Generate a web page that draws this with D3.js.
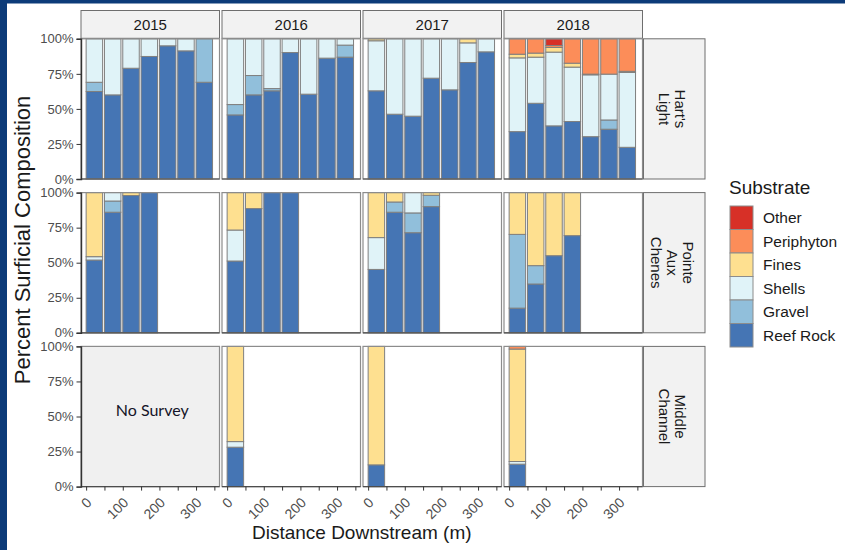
<!DOCTYPE html>
<html>
<head>
<meta charset="utf-8">
<script src="https://cdn.jsdelivr.net/npm/d3@7"></script>
<style>
  html, body { margin: 0; padding: 0; background: #ffffff; }
  svg { display: block; font-family: "Liberation Sans", Arial, sans-serif; }
</style>
</head>
<body>
<svg id="chart" width="845" height="550"></svg>
<script>
// Substrate classes, bottom of the stack first
const substrates = ["Reef Rock", "Gravel", "Shells", "Fines", "Periphyton", "Other"];
const substrateColors = ["#4575b4", "#91bfdb", "#e0f3f8", "#fee090", "#fc8d59", "#d73027"];

const years = ["2015", "2016", "2017", "2018"];
const sites = ["Hart's Light", "Pointe Aux Chenes", "Middle Channel"];
const siteLabelLines = [["Hart's", "Light"], ["Pointe", "Aux", "Chenes"], ["Middle", "Channel"]];

const distanceTicks = [0, 50, 100, 150, 200, 250, 300, 350];
const distanceLabels = ["0", "", "100", "", "200", "", "300", ""];
const percentTicks = [0, 25, 50, 75, 100];

// year, distance (m), Reef Rock, Gravel, Shells, Fines, Periphyton, Other (%)
const hartsLight = [
  ["2015",   0, 62.4,  6.6, 31.0, 0,   0,    0],
  ["2015",  50, 60.0,  0,   40.0, 0,   0,    0],
  ["2015", 100, 79.0,  0,   21.0, 0,   0,    0],
  ["2015", 150, 87.4,  0,   12.6, 0,   0,    0],
  ["2015", 200, 95.0,  0,    5.0, 0,   0,    0],
  ["2015", 250, 91.4,  0,    8.6, 0,   0,    0],
  ["2015", 300, 69.0, 31.0,  0,   0,   0,    0],
  ["2016",   0, 45.7,  7.4, 46.9, 0,   0,    0],
  ["2016",  50, 60.0, 13.8, 26.2, 0,   0,    0],
  ["2016", 100, 62.9,  1.6, 35.5, 0,   0,    0],
  ["2016", 150, 90.2,  0,    9.8, 0,   0,    0],
  ["2016", 200, 60.5,  0,   39.5, 0,   0,    0],
  ["2016", 250, 86.2,  0,   13.8, 0,   0,    0],
  ["2016", 300, 86.9,  8.6,  4.5, 0,   0,    0],
  ["2017",   0, 62.9,  0,   35.7, 1.4, 0,    0],
  ["2017",  50, 46.2,  0,   53.8, 0,   0,    0],
  ["2017", 100, 44.8,  0,   55.2, 0,   0,    0],
  ["2017", 150, 71.9,  0,   28.1, 0,   0,    0],
  ["2017", 200, 63.6,  0,   36.4, 0,   0,    0],
  ["2017", 250, 83.1,  0,   14.0, 2.9, 0,    0],
  ["2017", 300, 90.7,  0,    9.3, 0,   0,    0],
  ["2018",   0, 33.8,  0,   52.6, 2.6, 11.0, 0],
  ["2018",  50, 54.0,  0,   32.9, 2.9, 10.2, 0],
  ["2018", 100, 37.9,  0,   52.6, 3.3,  1.4, 4.8],
  ["2018", 150, 41.0,  0,   38.8, 2.8, 17.4, 0],
  ["2018", 200, 30.2,  0,   44.1, 0.5, 25.2, 0],
  ["2018", 250, 35.5,  6.6, 32.7, 0,   25.2, 0],
  ["2018", 300, 22.6,  0,   53.4, 0.8, 23.2, 0]
];

const pointeAuxChenes = [
  ["2015",   0, 51.9,  0,    2.4, 45.7, 0, 0],
  ["2015",  50, 86.0,  8.0,  6.0,  0,   0, 0],
  ["2015", 100, 97.9,  0,    0,    2.1, 0, 0],
  ["2015", 150, 100,   0,    0,    0,   0, 0],
  ["2016",   0, 51.2,  0,   22.1, 26.7, 0, 0],
  ["2016",  50, 88.6,  0,    0,   11.4, 0, 0],
  ["2016", 100, 100,   0,    0,    0,   0, 0],
  ["2016", 150, 100,   0,    0,    0,   0, 0],
  ["2017",   0, 45.2,  0,   22.7, 32.1, 0, 0],
  ["2017",  50, 86.0,  7.3,  0,    6.7, 0, 0],
  ["2017", 100, 71.4, 14.1, 14.5,  0,   0, 0],
  ["2017", 150, 90.0,  8.1,  0,    1.9, 0, 0],
  ["2018",   0, 17.6, 52.6,  0,   29.8, 0, 0],
  ["2018",  50, 34.8, 13.1,  0,   52.1, 0, 0],
  ["2018", 100, 55.0,  0,    0,   45.0, 0, 0],
  ["2018", 150, 69.3,  0,    0,   30.7, 0, 0]
];

const middleChannel = [
  ["2016", 0, 28.1, 0, 4.0, 67.9, 0,   0],
  ["2017", 0, 15.5, 0, 0,   84.5, 0,   0],
  ["2018", 0, 16.0, 0, 1.9, 80.2, 1.9, 0]
];

const siteData = [hartsLight, pointeAuxChenes, middleChannel];
// site / year combinations that were not surveyed
const noSurvey = [["Middle Channel", "2015"]];

// ---- layout ----
const panelX0 = 81, panelW = 138.5, colStep = 141;
const panelY0 = 38.8, panelH = 140.2, rowStep = 153.8;
const stripTop = 10.5;
const sideStripX0 = 643.5, sideStripX1 = 705;
const barWidth = 45;

const svg = d3.select("#chart");

// slide frame on the left and top edges
svg.append("rect").attr("x", 0).attr("y", 0).attr("width", 845).attr("height", 3.5).attr("fill", "#0c3b79");
svg.append("rect").attr("x", 0).attr("y", 0).attr("width", 7).attr("height", 550).attr("fill", "#0c3b79");

const x = d3.scaleLinear().domain([-14, 364]).range([0, panelW]);
const y = d3.scaleLinear().domain([0, 100]).range([panelH, 0]);
const color = d3.scaleOrdinal().domain(substrates).range(substrateColors);

// year strips
years.forEach((yr, c) => {
  const left = panelX0 + c * colStep;
  svg.append("rect")
    .attr("x", left).attr("y", stripTop)
    .attr("width", panelW).attr("height", panelY0 - stripTop - 0.5)
    .attr("fill", "#f2f2f2").attr("stroke", "#6e6e6e").attr("stroke-width", 1);
  svg.append("text")
    .attr("x", left + panelW / 2).attr("y", (stripTop + panelY0) / 2)
    .attr("text-anchor", "middle").attr("dominant-baseline", "central")
    .attr("font-size", 15).attr("fill", "#1a1a1a")
    .text(yr);
});

sites.forEach((site, r) => {
  const top = panelY0 + r * rowStep;

  // site strip on the right
  svg.append("rect")
    .attr("x", sideStripX0).attr("y", top)
    .attr("width", sideStripX1 - sideStripX0).attr("height", panelH)
    .attr("fill", "#f2f2f2").attr("stroke", "#6e6e6e").attr("stroke-width", 1);
  const lines = siteLabelLines[r];
  const lh = 16;
  const st = svg.append("text")
    .attr("transform", `translate(${(sideStripX0 + sideStripX1) / 2 - 2},${top + panelH / 2}) rotate(90)`)
    .attr("text-anchor", "middle").attr("font-size", 15).attr("fill", "#1a1a1a");
  lines.forEach((ln, i) => {
    st.append("tspan").attr("x", 0)
      .attr("y", (i - (lines.length - 1) / 2) * lh)
      .attr("dominant-baseline", "central")
      .text(ln);
  });

  years.forEach((yr, c) => {
    const left = panelX0 + c * colStep;
    const g = svg.append("g").attr("transform", `translate(${left},${top})`);
    const missing = noSurvey.some(([s, yy]) => s === site && yy === yr);

    g.append("rect").attr("width", panelW).attr("height", panelH)
      .attr("fill", missing ? "#f0f0f0" : "#ffffff");

    // stacked bars for this site/year
    const rows = siteData[r].filter(d => d[0] === yr);
    rows.forEach(row => {
      const dist = row[1];
      let cum = 0;
      substrates.forEach((s, k) => {
        const v = row[2 + k];
        if (v > 0) {
          g.append("rect")
            .attr("x", x(dist)).attr("width", x(dist + barWidth) - x(dist))
            .attr("y", y(cum + v)).attr("height", y(cum) - y(cum + v))
            .attr("fill", color(s))
            .attr("stroke", "#7f7f7f").attr("stroke-width", 1);
        }
        cum += v;
      });
    });

    if (missing) {
      g.append("text")
        .attr("x", panelW / 2 + 2).attr("y", panelH * 0.45)
        .attr("text-anchor", "middle").attr("dominant-baseline", "central")
        .attr("font-family", "Lato, 'Open Sans', sans-serif")
        .attr("font-size", 16).attr("fill", "#141428")
        .text("No Survey");
    }

    // panel border
    g.append("rect").attr("width", panelW).attr("height", panelH)
      .attr("fill", "none").attr("stroke", "#8c8c8c").attr("stroke-width", 1.2);
    // bottom axis line
    g.append("line").attr("x1", 0).attr("x2", panelW)
      .attr("y1", panelH).attr("y2", panelH)
      .attr("stroke", "#4d4d4d").attr("stroke-width", 1.2);

    if (c === 0) {
      const ya = g.append("g").call(
        d3.axisLeft(y).tickValues(percentTicks)
          .tickFormat(d => d + "%").tickSize(4.5).tickPadding(3)
      );
      ya.select(".domain").attr("stroke", "#333333").attr("stroke-width", 1.4);
      ya.selectAll(".tick line").attr("stroke", "#333333");
      ya.selectAll(".tick text")
        .attr("font-size", 13).attr("fill", "#4d4d4d")
        .attr("font-family", "'Liberation Sans', Arial, sans-serif");
    }

    if (r === sites.length - 1) {
      const xa = g.append("g").attr("transform", `translate(0,${panelH})`).call(
        d3.axisBottom(x).tickValues(distanceTicks)
          .tickFormat((d, i) => distanceLabels[i]).tickSize(4)
      );
      xa.select(".domain").remove();
      xa.selectAll(".tick line").attr("stroke", "#333333");
      xa.selectAll(".tick text")
        .attr("x", 0).attr("y", 0).attr("dy", 0)
        .attr("transform", "translate(6,17) rotate(-45)")
        .attr("text-anchor", "end")
        .attr("font-size", 14).attr("fill", "#4d4d4d")
        .attr("font-family", "'Liberation Sans', Arial, sans-serif");
    }
  });
});

// axis titles
svg.append("text")
  .attr("transform", "translate(22,240) rotate(-90)")
  .attr("text-anchor", "middle").attr("dominant-baseline", "central")
  .attr("font-size", 22).attr("fill", "#1a1a1a")
  .text("Percent Surficial Composition");

svg.append("text")
  .attr("x", panelX0 + (3 * colStep + panelW) / 2).attr("y", 539)
  .attr("text-anchor", "middle")
  .attr("font-size", 19).attr("fill", "#1a1a1a")
  .text("Distance Downstream (m)");

// legend
const legend = svg.append("g").attr("transform", "translate(730,0)");
legend.append("text").attr("x", -1).attr("y", 194)
  .attr("font-size", 19).attr("fill", "#1a1a1a").text("Substrate");
const legendOrder = substrates.slice().reverse();
const keyH = 23.5, keyW = 23, keyTop = 206;
legendOrder.forEach((s, i) => {
  legend.append("rect")
    .attr("x", 0).attr("y", keyTop + i * keyH)
    .attr("width", keyW).attr("height", keyH)
    .attr("fill", color(s)).attr("stroke", "#8c8c8c").attr("stroke-width", 1);
  legend.append("text")
    .attr("x", 33).attr("y", keyTop + i * keyH + keyH / 2)
    .attr("dominant-baseline", "central")
    .attr("font-size", 15.5).attr("fill", "#1a1a1a")
    .text(s);
});
</script>
</body>
</html>
